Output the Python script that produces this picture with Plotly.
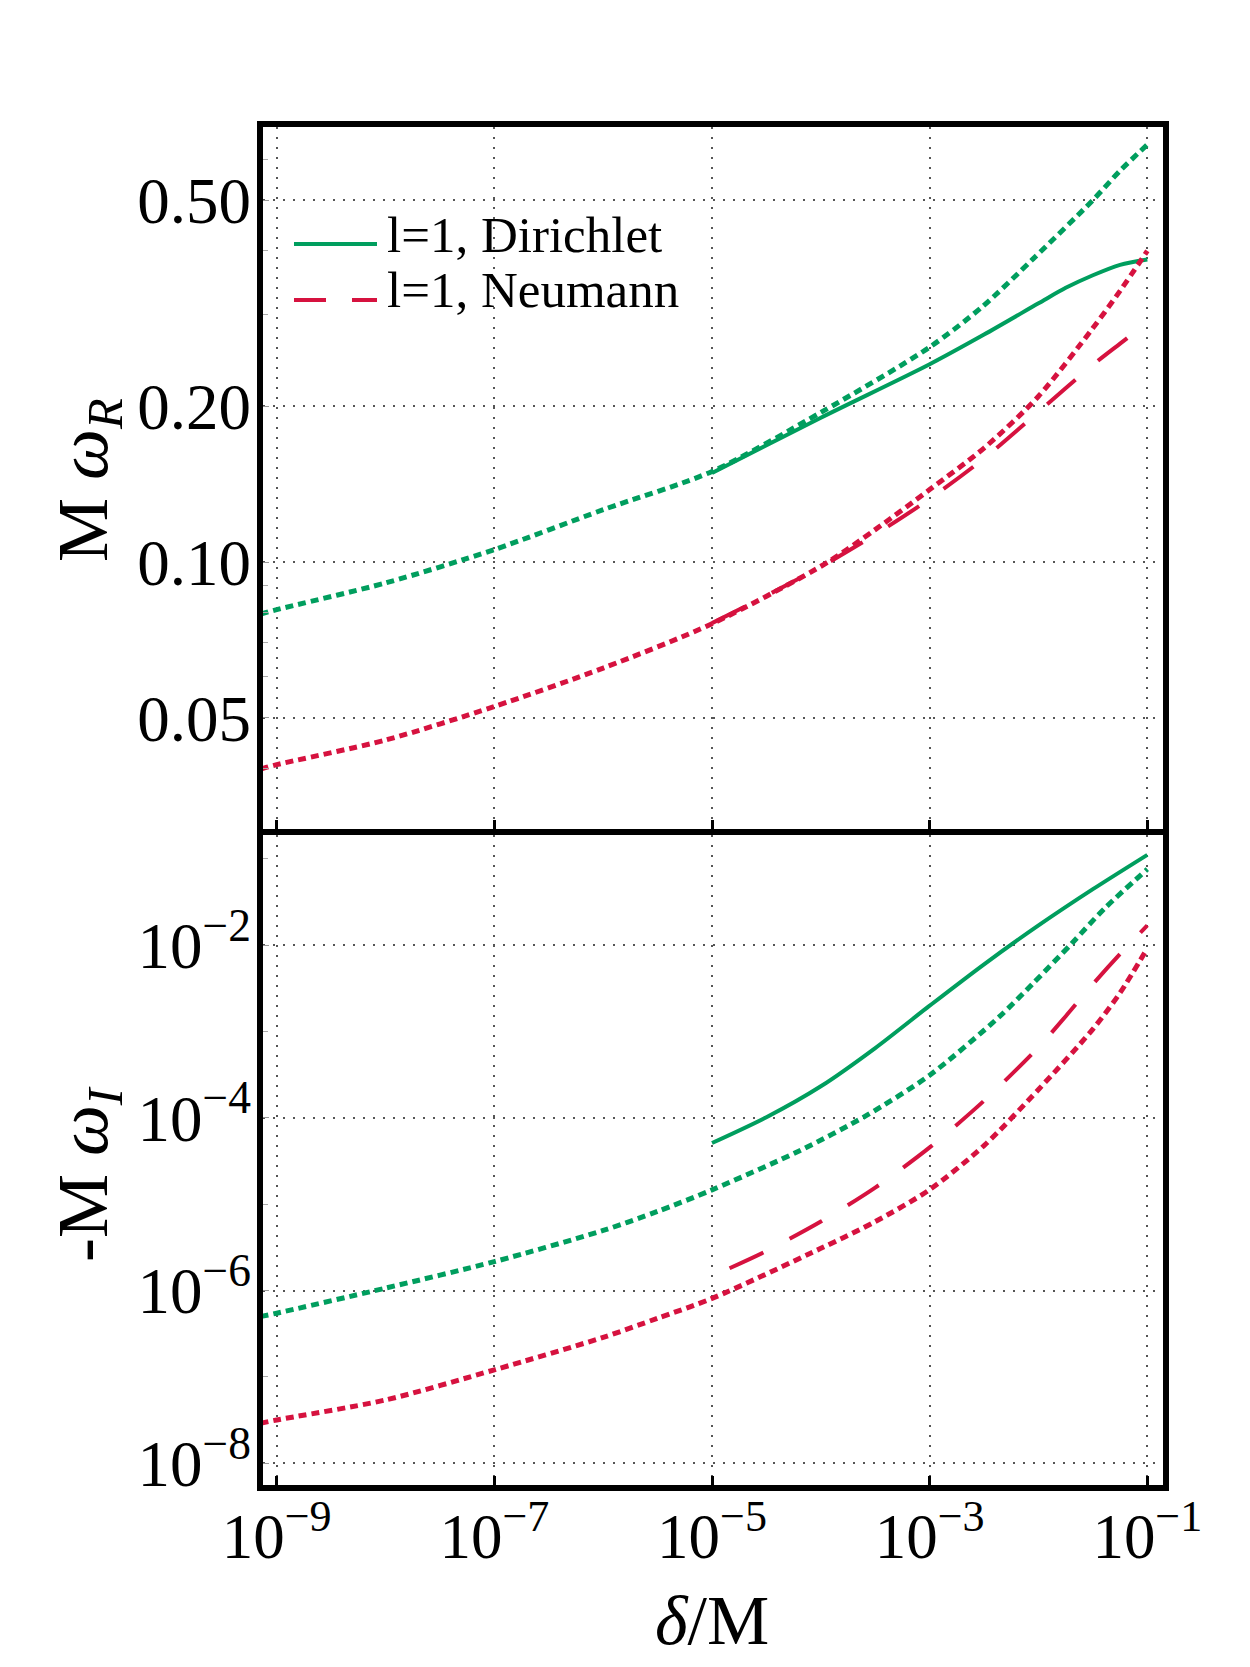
import plotly.graph_objects as go

# ---------------- data ----------------
delta_tickvals = [1e-9, 1e-7, 1e-5, 1e-3, 1e-1]
delta_ticktext = ["10<sup>−9</sup>", "10<sup>−7</sup>", "10<sup>−5</sup>", "10<sup>−3</sup>", "10<sup>−1</sup>"]
wr_tickvals = [0.05, 0.10, 0.20, 0.50]
wr_ticktext = ["0.05", "0.10", "0.20", "0.50"]
wi_tickvals = [1e-8, 1e-6, 1e-4, 1e-2]
wi_ticktext = ["10<sup>−8</sup>", "10<sup>−6</sup>", "10<sup>−4</sup>", "10<sup>−2</sup>"]

# Top panel: M*omega_R
dir_R_num_x = [1e-5, 1e-4, 1e-3, 3.16e-3, 1e-2, 1.78e-2, 3.16e-2, 5.62e-2, 0.1]
dir_R_num_y = [0.1486, 0.190, 0.241, 0.275, 0.316, 0.3385, 0.358, 0.375, 0.384]
dir_R_app_x = [7.08e-10, 1e-9, 1e-8, 1e-7, 1e-6, 1e-5, 1e-4, 1e-3, 3.09e-3, 8.91e-3, 3.16e-2, 5.62e-2, 0.1]
dir_R_app_y = [0.0793, 0.0809, 0.0911, 0.1057, 0.1262, 0.1496, 0.1945, 0.260, 0.312, 0.385, 0.500, 0.570, 0.640]
neu_R_num_x = [1e-5, 3.16e-5, 1e-4, 3.16e-4, 1e-3, 3.16e-3, 1e-2, 3.16e-2, 5.62e-2, 0.1]
neu_R_num_y = [0.0762, 0.0861, 0.0979, 0.1130, 0.1324, 0.1585, 0.195, 0.2404, 0.2642, 0.290]
neu_R_app_x = [7.08e-10, 1e-9, 1e-8, 1e-7, 1e-6, 1e-5, 1.12e-4, 3.16e-4, 1e-3, 3.16e-3, 1e-2, 3.16e-2, 5.62e-2, 0.1]
neu_R_app_y = [0.0398, 0.0406, 0.0453, 0.0526, 0.0624, 0.0760, 0.0995, 0.1155, 0.138, 0.166, 0.209, 0.283, 0.334, 0.399]

# Bottom panel: -M*omega_I
dir_I_num_x = [1e-5, 3.16e-5, 1e-4, 3.16e-4, 1e-3, 3.16e-3, 1e-2, 3.16e-2, 0.1]
dir_I_num_y = [5.13e-5, 1.02e-4, 2.33e-4, 6.46e-4, 2.00e-3, 6.03e-3, 1.70e-2, 4.47e-2, 0.1117]
dir_I_app_x = [7.08e-10, 1e-9, 1e-8, 1e-7, 1e-6, 3.16e-6, 1e-5, 6.46e-5, 2.63e-4, 1e-3, 4.37e-3, 8.91e-3, 2.02e-2, 4.07e-2, 0.1]
dir_I_app_y = [5.01e-7, 5.48e-7, 1.07e-6, 2.17e-6, 4.98e-6, 8.28e-6, 1.47e-5, 4.21e-5, 1.07e-4, 3.13e-4, 1.49e-3, 3.62e-3, 1.05e-2, 2.69e-2, 7.62e-2]
neu_I_num_x = [1.45e-5, 3.16e-5, 1e-4, 3.16e-4, 1e-3, 3.16e-3, 1e-2, 1.78e-2, 3.16e-2, 5.62e-2, 0.1]
neu_I_num_y = [1.82e-6, 2.88e-6, 6.31e-6, 1.56e-5, 4.56e-5, 1.585e-4, 6.61e-4, 1.51e-3, 3.55e-3, 7.94e-3, 1.70e-2]
neu_I_app_x = [7.08e-10, 1e-9, 1e-8, 1e-7, 1e-6, 3.16e-6, 1e-5, 1e-4, 3.16e-4, 1e-3, 3.16e-3, 1e-2, 3.16e-2, 5.62e-2, 0.1]
neu_I_app_y = [2.91e-8, 3.18e-8, 5.42e-8, 1.21e-7, 2.88e-7, 4.79e-7, 8.13e-7, 3.09e-6, 6.31e-6, 1.48e-5, 4.79e-5, 2.14e-4, 1.07e-3, 2.82e-3, 9.23e-3]

legend_names = ["l=1, Dirichlet", "l=1, Neumann"]

# ---------------- style ----------------
GREEN = "#009E5E"
RED = "#D6123F"
FONT = "Liberation Serif"
DOT = "8px,5px"
DASH = "37px,30px"

fig = go.Figure()

def add(x, y, color, dash, width, xa, ya, name):
    fig.add_trace(go.Scatter(
        x=x, y=y, mode="lines", name=name, showlegend=False,
        xaxis=xa, yaxis=ya,
        line=dict(color=color, width=width, dash=dash, shape="spline", smoothing=0.8),
    ))

add(dir_R_num_x, dir_R_num_y, GREEN, "solid", 4, "x", "y", legend_names[0])
add(neu_R_num_x, neu_R_num_y, RED, DASH, 4, "x", "y", legend_names[1])
add(dir_R_app_x, dir_R_app_y, GREEN, DOT, 5, "x", "y", "Dirichlet approx.")
add(neu_R_app_x, neu_R_app_y, RED, DOT, 5, "x", "y", "Neumann approx.")

add(dir_I_num_x, dir_I_num_y, GREEN, "solid", 4, "x2", "y2", legend_names[0])
add(neu_I_num_x, neu_I_num_y, RED, DASH, 4, "x2", "y2", legend_names[1])
add(dir_I_app_x, dir_I_app_y, GREEN, DOT, 5, "x2", "y2", "Dirichlet approx.")
add(neu_I_app_x, neu_I_app_y, RED, DOT, 5, "x2", "y2", "Neumann approx.")

grid = dict(showgrid=True, gridcolor="#555555", gridwidth=1.5, griddash="2px,8px", zeroline=False)
frame = dict(showline=True, linewidth=6, linecolor="black")
xrange = [-9.126, -0.856]

xcommon = dict(type="log", range=xrange, tickvals=delta_tickvals, ticktext=delta_ticktext,
               ticks="inside", ticklen=9, tickwidth=3, tickcolor="black",
               tickfont=dict(family=FONT, size=63, color="black"), **grid, **frame)

ycommon = dict(type="log", ticks="inside", ticklen=6, tickwidth=1, tickcolor="#999999", mirror=True,
               ticklabelstandoff=-7,
               tickfont=dict(family=FONT, size=65, color="black"), **grid, **frame)

fig.update_layout(
    width=1250, height=1667,
    margin=dict(l=263, r=87, t=127, b=182),
    paper_bgcolor="white", plot_bgcolor="white",
    showlegend=False,
    font=dict(family=FONT, color="black", size=63),
    xaxis=dict(anchor="y", domain=[0, 1], showticklabels=False, mirror=True, **xcommon),
    xaxis2=dict(anchor="y2", domain=[0, 1], showticklabels=True, mirror=False, matches="x",
                ticklabelstandoff=-9, **xcommon),
    yaxis=dict(anchor="x", domain=[0.48306, 1], range=[-1.5157, -0.1598],
               tickvals=wr_tickvals, ticktext=wr_ticktext,
               minor=dict(ticks="inside", ticklen=5, tickwidth=1, tickcolor="#aaaaaa", showgrid=False,
                          tickvals=[0.04, 0.06, 0.07, 0.08, 0.09, 0.3, 0.4, 0.6]),
               **ycommon),
    yaxis2=dict(anchor="x2", domain=[0, 0.47865], range=[-8.251, -0.7223],
                tickvals=wi_tickvals, ticktext=wi_ticktext,
                minor=dict(ticks="inside", ticklen=5, tickwidth=1, tickcolor="#aaaaaa", showgrid=False,
                           tickvals=[1e-7, 1e-5, 1e-3, 1e-1]),
                **ycommon),
)

# axis titles
fig.add_annotation(text="M <i>ω</i><sub><i>R</i></sub>", xref="paper", yref="paper",
                   x=-0.1944, y=0.7401, xanchor="center", yanchor="middle", textangle=-90,
                   showarrow=False, font=dict(family=FONT, size=72, color="black"))
fig.add_annotation(text="-M <i>ω</i><sub><i>I</i></sub>", xref="paper", yref="paper",
                   x=-0.1944, y=0.229, xanchor="center", yanchor="middle", textangle=-90,
                   showarrow=False, font=dict(family=FONT, size=72, color="black"))
fig.add_annotation(text="<i>δ</i>/M", xref="paper", yref="paper",
                   x=0.4989, y=-0.1001, xanchor="center", yanchor="middle",
                   showarrow=False, font=dict(family=FONT, size=70, color="black"))

# legend (drawn inside the top panel)
leg_colors = [GREEN, RED]
leg_dash = ["solid", "32px,26px"]
leg_line_y = [0.91384, 0.87261]
leg_text_y = [0.92045, 0.88032]
for i in range(2):
    fig.add_shape(type="line", xref="paper", yref="paper", x0=0.03444, x1=0.12667,
                  y0=leg_line_y[i], y1=leg_line_y[i],
                  line=dict(color=leg_colors[i], width=4, dash=leg_dash[i]))
    fig.add_annotation(text=legend_names[i], xref="paper", yref="paper",
                       x=0.1356, y=leg_text_y[i], xanchor="left", yanchor="middle",
                       showarrow=False, font=dict(family=FONT, size=51, color="black"))

fig.write_html("out.html")
